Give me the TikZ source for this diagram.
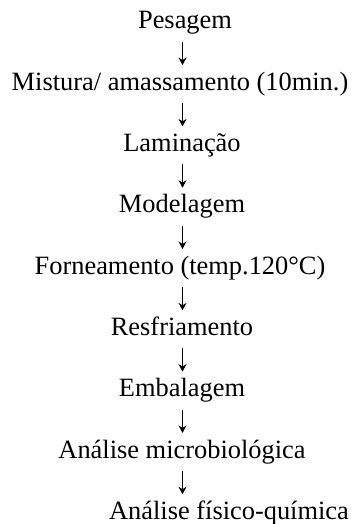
\documentclass[tikz,border=0pt]{standalone}
\usepackage{fontspec}
\setmainfont{Liberation Serif}
\usetikzlibrary{arrows.meta}
\begin{document}
\begin{tikzpicture}[x=1pt,y=-1pt,
  stepbox/.style={anchor=base,inner sep=0pt,text height=18pt,text depth=6pt,
    font=\fontsize{26.4}{30}\selectfont},
  arr/.style={line width=0.9pt,-{Stealth[length=7.5pt,width=8pt,inset=2.5pt]},
    shorten <=6.5pt,shorten >=7pt}]
\useasboundingbox (0,0) rectangle (352,524);
\coordinate (ax) at (182.5,0);
\node[stepbox] (n1) at (185,29) {Pesagem};
\node[stepbox] (n2) at (180,90.3) {Mistura/ amassamento (10min.)};
\node[stepbox] (n3) at (182,151.6) {Laminação};
\node[stepbox] (n4) at (182,212.9) {Modelagem};
\node[stepbox] (n5) at (180,274.2) {Forneamento (temp.120°C)};
\node[stepbox] (n6) at (182,335.5) {Resfriamento};
\node[stepbox] (n7) at (182,396.8) {Embalagem};
\node[stepbox] (n8) at (182,458.1) {Análise microbiológica};
\node[stepbox] (n9) at (229,519.4) {Análise físico-química};
\foreach \a/\b in {n1/n2,n2/n3,n3/n4,n4/n5,n5/n6,n6/n7,n7/n8,n8/n9}
  \draw[arr] (\a.south -| ax) -- (\b.north -| ax);
\end{tikzpicture}
\end{document}
